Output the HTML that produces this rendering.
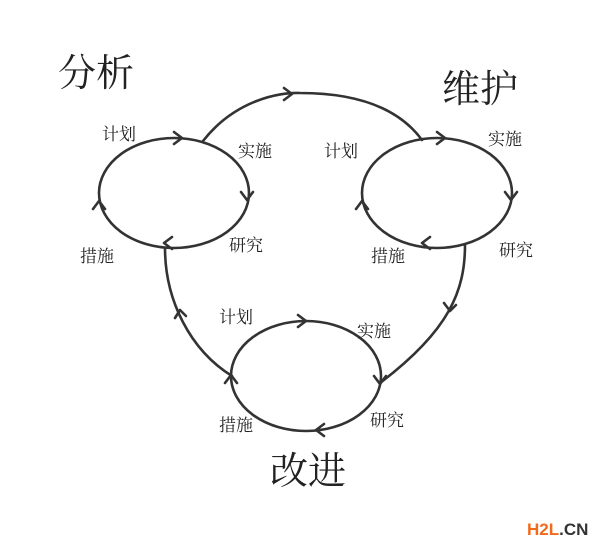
<!DOCTYPE html>
<html><head><meta charset="utf-8"><style>
body{margin:0;background:#fff;width:615px;height:547px;overflow:hidden}
svg{display:block}
text{font-family:"Liberation Serif","Noto Serif CJK SC",serif;fill:#222}
</style></head><body>
<svg width="615" height="547" viewBox="0 0 615 547">
<g fill="none" stroke="#333" stroke-width="2.6" stroke-linecap="round" stroke-linejoin="round">
<ellipse cx="174" cy="193" rx="75" ry="55"/>
<ellipse cx="437" cy="193" rx="75" ry="55"/>
<ellipse cx="306" cy="376" rx="75" ry="55"/>
<path d="M203,141 C235,100 280,92 300,93 C360,93 400,110 422,140"/>
<path d="M465,245 C465,290 450,330 380,383"/>
<path d="M165,248 C165,300 190,350 232,376"/>
<!-- chevrons -->
<path d="M174,132 L182,138 L174,144"/>
<path d="M241,192 L247,200 L253,192"/>
<path d="M172,237 L164,243 L172,249"/>
<path d="M93,209 L99,201 L105,209"/>
<path d="M437,132 L445,138 L437,144"/>
<path d="M505,192 L511,200 L517,192"/>
<path d="M430,237 L422,243 L430,249"/>
<path d="M356,209 L362,201 L368,209"/>
<path d="M298,315 L306,321 L298,327"/>
<path d="M374,376 L380,384 L386,376"/>
<path d="M324,424 L316,430 L324,436"/>
<path d="M225,383 L231,375 L237,383"/>
<path d="M284,88 L292,94 L284,100"/>
<path d="M444,303 L450,311 L456,305"/>
<path d="M175,318 L180,310 L186,316"/>
</g>
<text x="58" y="86" font-size="38">分析</text>
<text x="442" y="102" font-size="38">维护</text>
<text x="270" y="484" font-size="38">改进</text>
<g font-size="17">
<text x="102" y="140">计划</text>
<text x="238" y="157">实施</text>
<text x="229" y="251">研究</text>
<text x="80" y="262">措施</text>
<text x="324" y="157">计划</text>
<text x="488" y="145">实施</text>
<text x="499" y="256">研究</text>
<text x="371" y="262">措施</text>
<text x="219" y="323">计划</text>
<text x="357" y="337">实施</text>
<text x="370" y="426">研究</text>
<text x="219" y="431">措施</text>
</g>
<text x="527" y="535" font-size="17" font-weight="bold" style="font-family:'Liberation Sans',sans-serif"><tspan fill="#f26a1b">H2L</tspan><tspan fill="#333">.CN</tspan></text>
</svg>
</body></html>
